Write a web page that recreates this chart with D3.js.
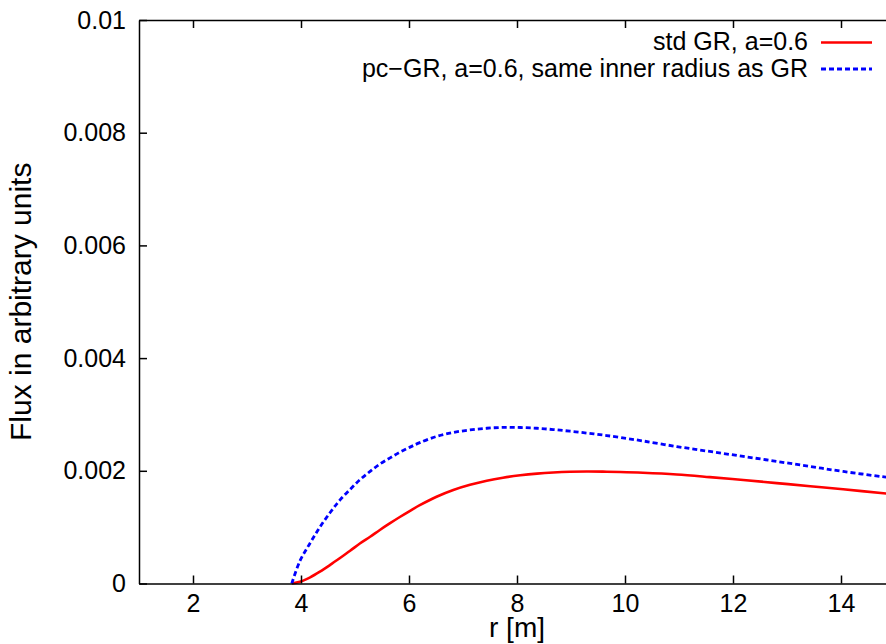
<!DOCTYPE html>
<html>
<head>
<meta charset="utf-8">
<script src="https://cdn.jsdelivr.net/npm/d3@7"></script>
<style>
  html, body { margin: 0; padding: 0; background: #fff; }
  svg { display: block; font-family: "Liberation Sans", Arial, Helvetica, sans-serif; }
  .axis text { font-size: 25px; fill: #000; }
  .axis line, .axis path { stroke: #000; stroke-width: 1.5; }
</style>
</head>
<body>
<div id="chart"></div>
<script>
// Radius samples, shared by both curves.
const radius = [3.83, 3.98, 4.17, 4.35, 4.54, 4.72, 4.91, 5.09, 5.28, 5.46, 5.65, 5.83,
  6.02, 6.2, 6.51, 6.82, 7.13, 7.44, 7.74, 8.06, 8.37, 8.67, 8.98, 9.29, 9.59, 9.91,
  10.33, 10.96, 11.57, 12.19, 12.81, 13.43, 14.04, 14.85]

// std GR, a=0.6
const stdFlux = [0, 0.00003, 0.00011, 0.00021, 0.00033, 0.00045, 0.00058, 0.00071,
  0.00083, 0.00095, 0.00107, 0.00118, 0.00129, 0.00139, 0.00154, 0.00166, 0.001752,
  0.001825, 0.001878, 0.00192, 0.00195, 0.00197, 0.001983, 0.001987, 0.001985, 0.001979,
  0.001966, 0.001935, 0.001888, 0.001836, 0.001782, 0.001727, 0.001672, 0.001595]

// pc-GR, a=0.6, same inner radius as GR
const pcFlux = [0, 0.0004, 0.00072, 0.001, 0.00126, 0.00148, 0.00167, 0.00184,
  0.00199, 0.00212, 0.00223, 0.00233, 0.00242, 0.0025, 0.00261, 0.00268, 0.002725,
  0.002755, 0.00277, 0.002768, 0.002755, 0.002732, 0.002703, 0.00267, 0.002635, 0.002592,
  0.00253, 0.00243, 0.002343, 0.002256, 0.002167, 0.002077, 0.001988, 0.001885]

const xTicks = [2, 4, 6, 8, 10, 12, 14]
const yTicks = [0, 0.002, 0.004, 0.006, 0.008, 0.01]
const yTickLabels = ['0', '0.002', '0.004', '0.006', '0.008', '0.01']

const seriesNames = ['std GR, a=0.6', 'pc\u2212GR, a=0.6, same inner radius as GR']
const seriesColors = ['#ff0000', '#0000ff']

let width = 886,
    height = 644

// Plot frame (right edge falls just outside the picture).
const frame = { left: 139, top: 20, right: 895, bottom: 583.5 }

const x = d3.scaleLinear().domain([1, 15]).range([frame.left, frame.right])
const y = d3.scaleLinear().domain([0, 0.01]).range([frame.bottom, frame.top])

const svg = d3.select('#chart')
  .append('svg')
    .attr('width', width)
    .attr('height', height)

// Curves first, axes drawn over them.
const plot = svg.append('g')

const line = d3.line()
  .x(function(d) { return x(d[0]) })
  .y(function(d) { return y(d[1]) })
  .curve(d3.curveCatmullRom.alpha(0.5))

plot.append('path')
  .datum(d3.zip(radius, stdFlux))
  .attr('d', line)
  .attr('fill', 'none')
  .attr('stroke', seriesColors[0])
  .attr('stroke-width', 2.6)

plot.append('path')
  .datum(d3.zip(radius, pcFlux))
  .attr('d', line)
  .attr('fill', 'none')
  .attr('stroke', seriesColors[1])
  .attr('stroke-width', 2.8)
  .attr('stroke-dasharray', '5,3')

// Axes with inward ticks, mirrored on top and right.
svg.append('g')
  .attr('class', 'axis')
  .attr('transform', 'translate(0,' + frame.bottom + ')')
  .call(d3.axisBottom(x).tickValues(xTicks).tickSizeInner(-8).tickSizeOuter(0).tickPadding(11))

svg.append('g')
  .attr('class', 'axis')
  .attr('transform', 'translate(0,' + frame.top + ')')
  .call(d3.axisTop(x).tickValues(xTicks).tickSizeInner(-8).tickSizeOuter(0).tickFormat(''))

svg.append('g')
  .attr('class', 'axis')
  .attr('transform', 'translate(' + frame.left + ',0)')
  .call(d3.axisLeft(y).tickValues(yTicks).tickSizeInner(-8).tickSizeOuter(0).tickPadding(13)
    .tickFormat(function(d, i) { return yTickLabels[i] }))

svg.append('g')
  .attr('class', 'axis')
  .attr('transform', 'translate(' + frame.right + ',0)')
  .call(d3.axisRight(y).tickValues(yTicks).tickSizeInner(-8).tickSizeOuter(0).tickFormat(''))

// Axis titles.
svg.append('text')
  .attr('x', (frame.left + frame.right) / 2)
  .attr('y', 637)
  .attr('text-anchor', 'middle')
  .style('font-size', '28px')
  .text('r [m]')

svg.append('text')
  .attr('transform', 'translate(31,' + (frame.top + frame.bottom) / 2 + ') rotate(-90)')
  .attr('text-anchor', 'middle')
  .style('font-size', '30px')
  .text('Flux in arbitrary units')

// Legend (top right).
const legend = svg.append('g')
for (let i = 0; i < seriesNames.length; i++) {
  const row = legend.append('g')
    .attr('transform', 'translate(0,' + (i * 26.5) + ')')

  row.append('text')
    .attr('x', 808)
    .attr('y', 50)
    .attr('text-anchor', 'end')
    .style('font-size', '25px')
    .text(seriesNames[i])

  row.append('line')
    .attr('x1', 821)
    .attr('x2', 872)
    .attr('y1', 42.5)
    .attr('y2', 42.5)
    .attr('stroke', seriesColors[i])
    .attr('stroke-width', i === 0 ? 2.6 : 2.8)
    .attr('stroke-dasharray', i === 0 ? null : '5,3')
}
</script>
</body>
</html>
